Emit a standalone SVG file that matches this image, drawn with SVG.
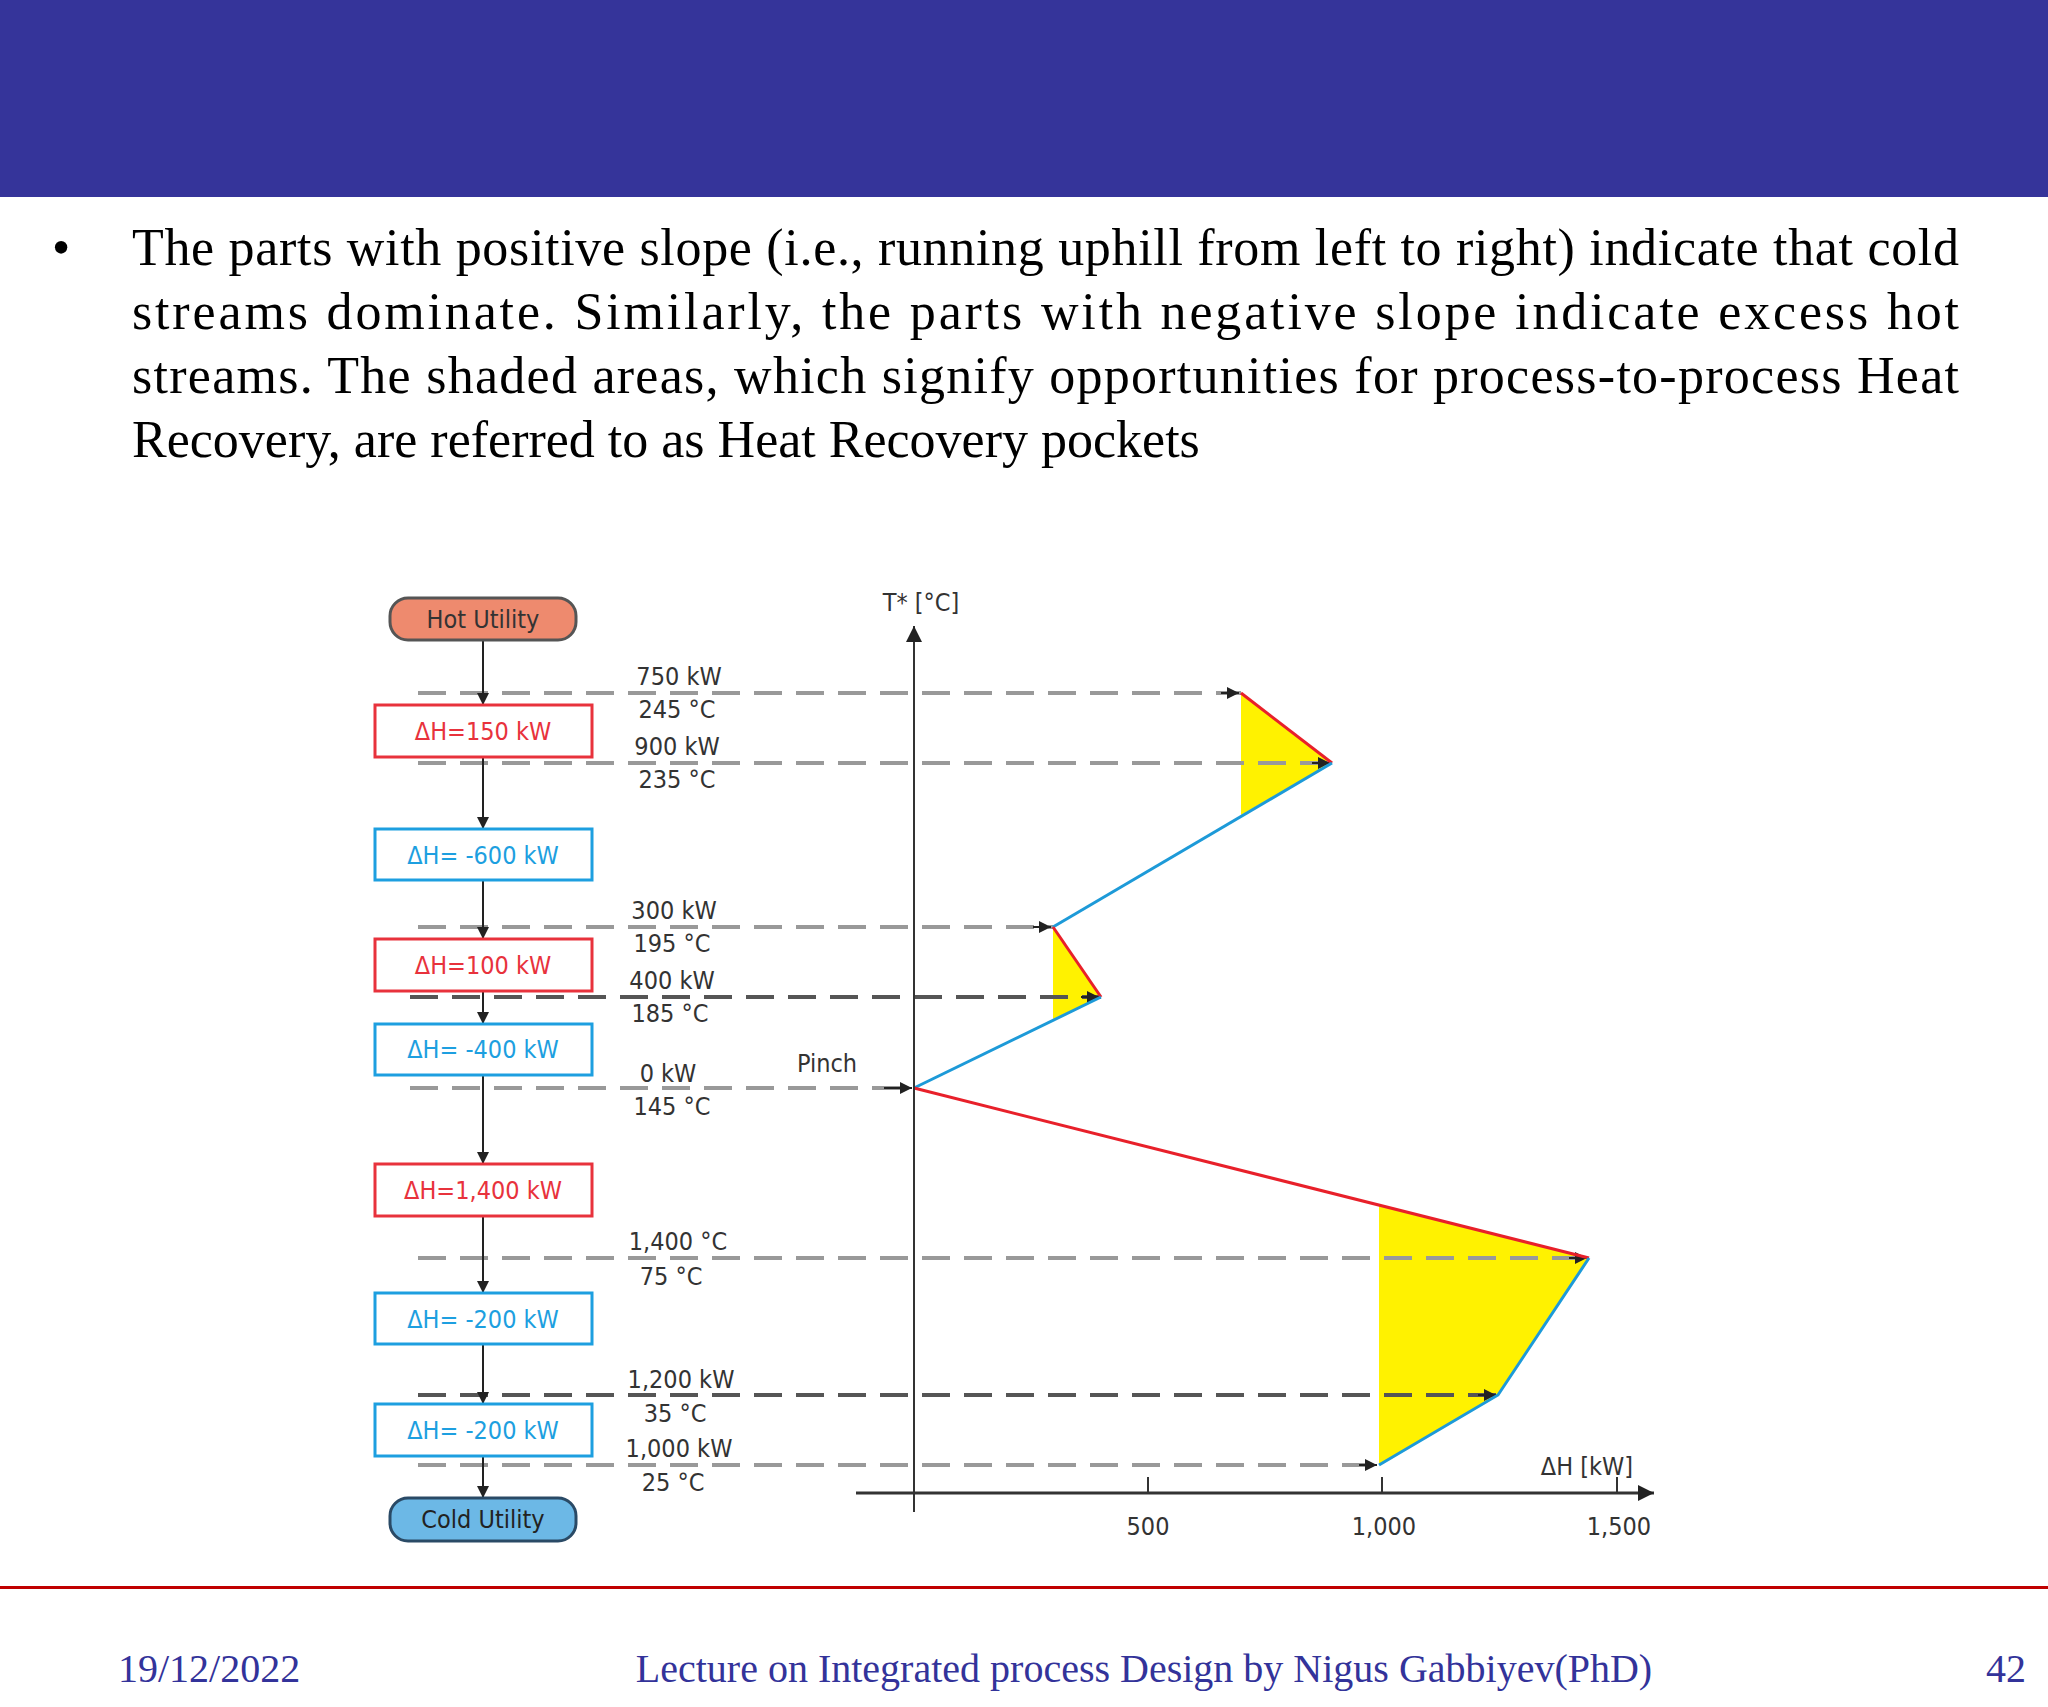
<svg xmlns="http://www.w3.org/2000/svg" width="2048" height="1707" viewBox="0 0 2048 1707">
<defs>
<marker id="ah" viewBox="0 0 10 10" refX="10" refY="5" markerWidth="16" markerHeight="12" orient="auto" markerUnits="userSpaceOnUse"><path d="M0,0L10,5L0,10z" fill="#222"/></marker>
<marker id="ahb" viewBox="0 0 10 10" refX="10" refY="5" markerWidth="18" markerHeight="16" orient="auto" markerUnits="userSpaceOnUse"><path d="M0,0L10,5L0,10z" fill="#222"/></marker>
</defs>
<style>
.body{font-family:"Liberation Serif",serif;font-size:52px;fill:#000}
.foot{font-family:"Liberation Serif",serif;font-size:40px;fill:#33339a}
.lbl{font-family:"DejaVu Sans Condensed","DejaVu Sans",sans-serif;font-size:25px;fill:#333;text-anchor:middle}
.bx{font-family:"DejaVu Sans Condensed","DejaVu Sans",sans-serif;font-size:25px;text-anchor:middle}
.dash{stroke:#999;stroke-width:4;stroke-dasharray:28,14;fill:none}
.dashd{stroke:#555;stroke-width:4;stroke-dasharray:28,14;fill:none}
.rb{fill:#fff;stroke:#e8323c;stroke-width:3}
.bb{fill:#fff;stroke:#1d9fe0;stroke-width:3}
.red{stroke:#e8202a;stroke-width:3;fill:none}
.blue{stroke:#1d9ad8;stroke-width:3;fill:none}
.yel{fill:#fff200}
.ar{stroke:#222;stroke-width:2;fill:none;marker-end:url(#ah)}
</style>
<rect x="0" y="0" width="2048" height="197" fill="#35349a"/>
<text class="body" x="52" y="265">•</text>
<text class="body" x="132" y="265" textLength="1827" lengthAdjust="spacing">The parts with positive slope (i.e., running uphill from left to right) indicate that cold</text>
<text class="body" x="132" y="329" textLength="1827" lengthAdjust="spacing">streams dominate. Similarly, the parts with negative slope indicate excess hot</text>
<text class="body" x="132" y="393" textLength="1827" lengthAdjust="spacing">streams. The shaded areas, which signify opportunities for process-to-process Heat</text>
<text class="body" x="132" y="457">Recovery, are referred to as Heat Recovery pockets</text>

<g id="pockets">
<polygon class="yel" points="1241,693 1332,763 1241,815"/>
<polygon class="yel" points="1053,927 1101,997 1053,1019"/>
<polygon class="yel" points="1379,1205 1589,1258 1498,1395 1379,1465"/>
</g>
<g id="connectors">
<path class="dash" d="M418,693H1241"/>
<path class="dash" d="M418,763H1332"/>
<path class="dash" d="M418,927H1053"/>
<path class="dashd" d="M410,997H1101"/>
<path class="dash" d="M410,1088H914"/>
<path class="dash" d="M418,1258H1589"/>
<path class="dashd" d="M418,1395H1498"/>
<path class="dash" d="M418,1465H1379"/>
<path class="ar" d="M1221,693h18"/>
<path class="ar" d="M1312,763h18"/>
<path class="ar" d="M1033,927h18"/>
<path class="ar" d="M1081,997h18"/>
<path class="ar" d="M884,1088h28"/>
<path class="ar" d="M1569,1258h18"/>
<path class="ar" d="M1478,1395h18"/>
<path class="ar" d="M1359,1465h18"/>
<path class="red" d="M1241,693L1332,763"/>
<path class="blue" d="M1332,763L1053,927"/>
<path class="red" d="M1053,927L1101,997"/>
<path class="blue" d="M1101,997L914,1088"/>
<path class="red" d="M914,1088L1589,1258"/>
<path class="blue" d="M1589,1258L1498,1395L1379,1465"/>
<path d="M914,1512V626" stroke="#333" stroke-width="2" marker-end="url(#ahb)"/>
<path d="M856,1493H1654" stroke="#333" stroke-width="3" marker-end="url(#ahb)"/>
<path d="M1148,1493v-16M1382,1493v-16M1617,1493v-16" stroke="#333" stroke-width="2"/>
<path class="ar" d="M483,640V705"/>
<path class="ar" d="M483,757V829"/>
<path class="ar" d="M483,880V939"/>
<path class="ar" d="M483,991V1024"/>
<path class="ar" d="M483,1075V1164"/>
<path class="ar" d="M483,1216V1293"/>
<path class="ar" d="M483,1344V1404"/>
<path class="ar" d="M483,1456V1498"/>
</g>
<g id="hot-utility"><rect x="390" y="598" width="186" height="42" rx="18" fill="#ee8a6e" stroke="#555" stroke-width="3"/><text class="bx" x="483" y="628" fill="#333">Hot Utility</text></g>
<g id="n150"><rect class="rb" x="375" y="705" width="217" height="52"/><text class="bx" x="483" y="740" fill="#e8323c">ΔH=150 kW</text></g>
<g id="n600"><rect class="bb" x="375" y="829" width="217" height="51"/><text class="bx" x="483" y="864" fill="#1d9fe0">ΔH= -600 kW</text></g>
<g id="n100"><rect class="rb" x="375" y="939" width="217" height="52"/><text class="bx" x="483" y="974" fill="#e8323c">ΔH=100 kW</text></g>
<g id="n400"><rect class="bb" x="375" y="1024" width="217" height="51"/><text class="bx" x="483" y="1058" fill="#1d9fe0">ΔH= -400 kW</text></g>
<g id="n1400"><rect class="rb" x="375" y="1164" width="217" height="52"/><text class="bx" x="483" y="1199" fill="#e8323c">ΔH=1,400 kW</text></g>
<g id="n200a"><rect class="bb" x="375" y="1293" width="217" height="51"/><text class="bx" x="483" y="1328" fill="#1d9fe0">ΔH= -200 kW</text></g>
<g id="n200b"><rect class="bb" x="375" y="1404" width="217" height="52"/><text class="bx" x="483" y="1439" fill="#1d9fe0">ΔH= -200 kW</text></g>
<g id="cold-utility"><rect x="390" y="1498" width="186" height="43" rx="18" fill="#6cb8e6" stroke="#2a4a66" stroke-width="3"/><text class="bx" x="483" y="1528" fill="#222">Cold Utility</text></g>
<g id="labels">
<text class="lbl" x="679" y="685">750 kW</text><text class="lbl" x="677" y="718">245 °C</text>
<text class="lbl" x="677" y="755">900 kW</text><text class="lbl" x="677" y="788">235 °C</text>
<text class="lbl" x="674" y="919">300 kW</text><text class="lbl" x="672" y="952">195 °C</text>
<text class="lbl" x="672" y="989">400 kW</text><text class="lbl" x="670" y="1022">185 °C</text>
<text class="lbl" x="668" y="1082">0 kW</text><text class="lbl" x="672" y="1115">145 °C</text>
<text class="lbl" x="678" y="1250">1,400 °C</text><text class="lbl" x="671" y="1285">75 °C</text>
<text class="lbl" x="681" y="1388">1,200 kW</text><text class="lbl" x="675" y="1422">35 °C</text>
<text class="lbl" x="679" y="1457">1,000 kW</text><text class="lbl" x="673" y="1491">25 °C</text>
<text class="lbl" x="827" y="1072">Pinch</text>
<text class="lbl" x="921" y="611">T* [°C]</text>
<text class="lbl" x="1587" y="1475">ΔH [kW]</text>
<text class="lbl" x="1148" y="1535">500</text>
<text class="lbl" x="1384" y="1535">1,000</text>
<text class="lbl" x="1619" y="1535">1,500</text>
</g>
<rect x="0" y="1586" width="2048" height="3" fill="#c00000"/>
<text class="foot" x="118" y="1682">19/12/2022</text>
<text class="foot" x="1144" y="1682" text-anchor="middle">Lecture on Integrated process Design by Nigus Gabbiyev(PhD)</text>
<text class="foot" x="2026" y="1682" text-anchor="end">42</text>
</svg>
